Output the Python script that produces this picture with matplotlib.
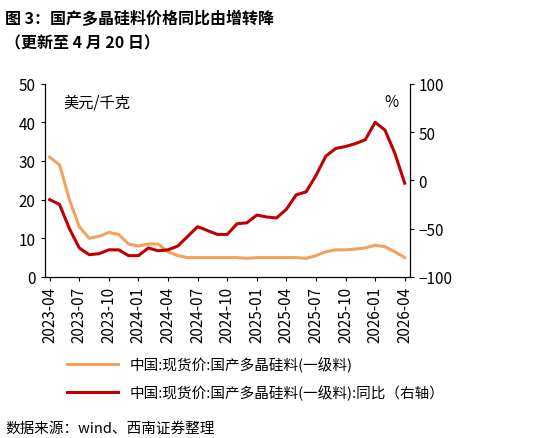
import matplotlib.pyplot as plt
import numpy as np

plt.rcParams['font.family'] = ['Noto Sans CJK SC', 'DejaVu Sans']

months = ["2023-04", "2023-05", "2023-06", "2023-07", "2023-08", "2023-09", "2023-10",
          "2023-11", "2023-12", "2024-01", "2024-02", "2024-03", "2024-04", "2024-05",
          "2024-06", "2024-07", "2024-08", "2024-09", "2024-10", "2024-11", "2024-12",
          "2025-01", "2025-02", "2025-03", "2025-04", "2025-05", "2025-06", "2025-07",
          "2025-08", "2025-09", "2025-10", "2025-11", "2025-12", "2026-01", "2026-02",
          "2026-03", "2026-04"]
price = [31, 29, 20, 13, 10, 10.5, 11.5, 11, 8.5, 8, 8.5, 8.5, 6.5, 5.5, 5, 5, 5, 5, 5,
         5, 4.8, 5, 5, 5, 5, 5, 4.8, 5.5, 6.5, 7, 7, 7.2, 7.5, 8.2, 7.8, 6.5, 5]
yoy = [-20, -25, -50, -70, -77, -76, -72, -72, -78, -78, -70, -73, -72, -68, -58, -48,
       -52, -56, -56, -45, -44, -36, -38, -39, -30, -15, -12, 5, 25, 33, 35, 38, 42, 60,
       52, 28, -3]

x = np.arange(len(months))
fig = plt.figure(figsize=(5.39, 4.39), dpi=100)
ax = fig.add_axes([0.083, 0.367, 0.677, 0.44])
ax2 = ax.twinx()

l1, = ax.plot(x, price, color="#F4A25B", lw=2.2)
l2, = ax2.plot(x, yoy, color="#C00000", lw=2.2)

ax.set_ylim(0, 50)
ax.set_yticks(range(0, 51, 10))
ax2.set_ylim(-100, 100)
ax2.set_yticks([-100, -50, 0, 50, 100])
ax.set_xlim(-0.5, len(months) - 0.5)
ax.set_xticks(x[::3])
ax.set_xticklabels(months[::3], rotation=90, fontsize=10)
for a in (ax, ax2):
    a.tick_params(labelsize=11, length=3)
    for s in ("top",):
        a.spines[s].set_visible(False)
ax.text(0.05, 0.95, "美元/千克", transform=ax.transAxes, fontsize=11, va="top")
ax2.text(0.97, 0.95, "%", transform=ax.transAxes, fontsize=11, va="top", ha="right")

fig.text(0.01, 0.975, "图 3：国产多晶硅料价格同比由增转降", fontsize=11.5, weight="bold", va="top")
fig.text(0.01, 0.92, "（更新至 4 月 20 日）", fontsize=11.5, weight="bold", va="top")
fig.legend([l1, l2], ["中国:现货价:国产多晶硅料(一级料)", "中国:现货价:国产多晶硅料(一级料):同比（右轴）"],
           loc="upper left", bbox_to_anchor=(0.1, 0.215), frameon=False, fontsize=10.5,
           handlelength=3.5, labelspacing=0.8)
fig.text(0.01, 0.015, "数据来源：wind、西南证券整理", fontsize=10.5, style="italic")
fig.savefig("out.png")
